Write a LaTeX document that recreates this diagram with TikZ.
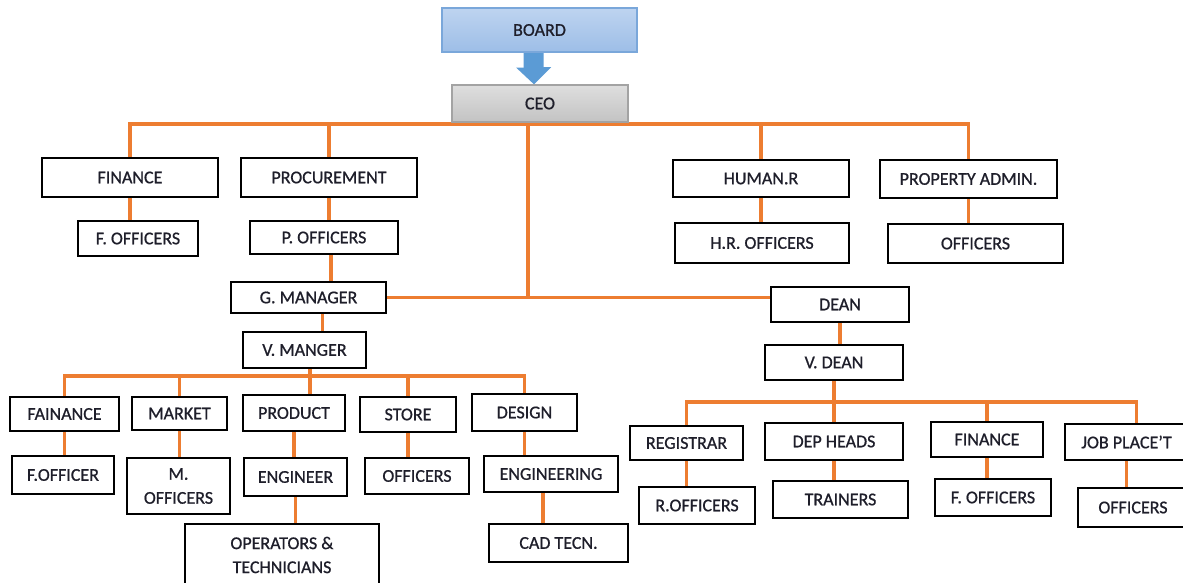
\documentclass[tikz,border=0pt]{standalone}
\usepackage{fontspec}
\setmainfont{Carlito}[FakeBold=0.8]
\usetikzlibrary{arrows.meta,backgrounds}
\definecolor{linkorange}{HTML}{ED7D31}
\definecolor{arrowblue}{HTML}{5B9BD5}
\definecolor{boardtop}{HTML}{BED4F0}
\definecolor{boardbot}{HTML}{9DBEE7}
\definecolor{boardedge}{HTML}{7AA7DA}
\definecolor{ceotop}{HTML}{DEDEDE}
\definecolor{ceobot}{HTML}{C3C3C3}
\definecolor{ceoedge}{HTML}{A3A3A3}
\definecolor{ink}{HTML}{1E1E2A}
\tikzset{
  box/.style={draw=black, line width=1.5pt, fill=white, inner sep=0pt,
    align=center, text=ink, font=\fontsize{18}{24}\selectfont},
  boardbox/.style={box, draw=boardedge, line width=1.2pt, fill=none,
    top color=boardtop, bottom color=boardbot},
  ceobox/.style={box, draw=ceoedge, line width=1.2pt, fill=none,
    top color=ceotop, bottom color=ceobot},
  link/.style={draw=linkorange, line width=3.2pt},
  blockarrow/.style={draw=arrowblue, line width=20pt,
    -{Triangle[width=34pt,length=17pt]}, arrowblue}
}
\begin{document}
\begin{tikzpicture}[x=1pt,y=-1pt]
\clip (0,0) rectangle (1183,583);

% top of the chart
\node[boardbox, minimum width=195pt, minimum height=44pt] (board) at (539.5,30) {BOARD};
\node[ceobox, minimum width=176pt, minimum height=37pt] (ceo) at (540,103.5) {CEO};

% departments under the CEO
\node[box, minimum width=176pt, minimum height=39pt] (fin)  at (130,177.5) {FINANCE};
\node[box, minimum width=176pt, minimum height=39pt] (proc) at (329,177.5) {PROCUREMENT};
\node[box, minimum width=176pt, minimum height=37pt] (hr)   at (761,178.5) {HUMAN.R};
\node[box, minimum width=177pt, minimum height=38pt] (prop) at (968.5,179) {PROPERTY ADMIN.};
\node[box, minimum width=120pt, minimum height=35pt] (fof)  at (138,238.5) {F. OFFICERS};
\node[box, minimum width=148pt, minimum height=33pt] (pof)  at (324,237.5) {P. OFFICERS};
\node[box, minimum width=174pt, minimum height=40pt] (hro)  at (762,243) {H.R. OFFICERS};
\node[box, minimum width=175pt, minimum height=39pt] (pao)  at (975.5,243.5) {OFFICERS};

% industry side
\node[box, minimum width=155pt, minimum height=31pt] (gm)   at (308.5,297.5) {G. MANAGER};
\node[box, minimum width=123pt, minimum height=36pt] (vm)   at (304.5,350) {V. MANGER};
\node[box, minimum width=109pt, minimum height=34pt] (fai)  at (64.5,414) {FAINANCE};
\node[box, minimum width=95pt,  minimum height=33pt] (mkt)  at (179.5,413.5) {MARKET};
\node[box, minimum width=102pt, minimum height=36pt] (prd)  at (294,413) {PRODUCT};
\node[box, minimum width=96pt,  minimum height=35pt] (sto)  at (408,414.5) {STORE};
\node[box, minimum width=105pt, minimum height=37pt] (des)  at (524.5,412.5) {DESIGN};
\node[box, minimum width=102pt, minimum height=38pt] (fo2)  at (63,475) {F.OFFICER};
\node[box, minimum width=103pt, minimum height=56pt] (mof)  at (178.5,486) {M.\\OFFICERS};
\node[box, minimum width=103pt, minimum height=38pt] (eng)  at (295.5,477) {ENGINEER};
\node[box, minimum width=104pt, minimum height=36pt] (sof)  at (417,476) {OFFICERS};
\node[box, minimum width=134pt, minimum height=36pt] (engg) at (551,474) {ENGINEERING};
\node[box, minimum width=194pt, minimum height=62pt] (ops)  at (282,555) {OPERATORS \&\\TECHNICIANS};
\node[box, minimum width=139pt, minimum height=38pt] (cad)  at (558.5,543) {CAD TECN.};

% college side
\node[box, minimum width=138pt, minimum height=35pt] (dean) at (840,304.5) {DEAN};
\node[box, minimum width=138pt, minimum height=35pt] (vd)   at (834,362.5) {V. DEAN};
\node[box, minimum width=113pt, minimum height=34pt] (reg)  at (686.5,443) {REGISTRAR};
\node[box, minimum width=138pt, minimum height=37pt] (dh)   at (834,441.5) {DEP HEADS};
\node[box, minimum width=112pt, minimum height=35pt] (fin2) at (987,439.5) {FINANCE};
\node[box, minimum width=123pt, minimum height=36pt] (job)  at (1126.5,442) {JOB PLACE'T};
\node[box, minimum width=116pt, minimum height=37pt] (rof)  at (697,505.5) {R.OFFICERS};
\node[box, minimum width=135pt, minimum height=37pt] (trn)  at (840.5,499.5) {TRAINERS};
\node[box, minimum width=116pt, minimum height=37pt] (fof3) at (993,497.5) {F. OFFICERS};
\node[box, minimum width=110pt, minimum height=39pt] (jof)  at (1133,507.5) {OFFICERS};

% junction points of the bus lines
\coordinate (trunk) at (528,124);
\coordinate (vmbar) at (310,376);
\coordinate (vdbar) at (834,402);

\begin{scope}[on background layer]
  \fill[white] (0,0) rectangle (1183,583);

  % board to CEO
  \draw[blockarrow] ([xshift=-6pt]board.south) -- ([xshift=-6pt]ceo.north);

  % CEO bus
  \draw[link] (fin.north) |- (trunk) -| (prop.north);
  \draw[link] (proc.north) -- (proc.north |- trunk);
  \draw[link] (hr.north) -- (hr.north |- trunk);
  \draw[link] (ceo.south -| trunk) -- (trunk |- gm.east) -- (gm.east);
  \draw[link] (gm.east) -- (gm.east -| dean.west);

  \draw[link] (fin.south) -- (fin.south |- fof.north);
  \draw[link] (proc.south) -- (proc.south |- pof.north);
  \draw[link] ([xshift=7pt]pof.south) -- ([xshift=7pt]pof.south |- gm.north);
  \draw[link] (hr.south) -- (hr.south |- hro.north);
  \draw[link] (prop.south) -- (prop.south |- pao.north);

  % industry side
  \draw[link] ([xshift=14pt]gm.south) -- ([xshift=14pt]gm.south |- vm.north);
  \draw[link] (vm.south -| vmbar) -- (vmbar |- prd.north);
  \draw[link] (fai.north) |- (vmbar) -| (des.north);
  \draw[link] (mkt.north) -- (mkt.north |- vmbar);
  \draw[link] (sto.north) -- (sto.north |- vmbar);
  \draw[link] (fai.south) -- (fai.south |- fo2.north);
  \draw[link] (mkt.south) -- (mkt.south |- mof.north);
  \draw[link] (prd.south) -- (prd.south |- eng.north);
  \draw[link] (eng.south) -- (eng.south |- ops.north);
  \draw[link] (sto.south) -- (sto.south |- sof.north);
  \draw[link] (des.south) -- (des.south |- engg.north);
  \draw[link] ([xshift=-8pt]engg.south) -- ([xshift=-8pt]engg.south |- cad.north);

  % college side
  \draw[link] (dean.south) -- (dean.south |- vd.north);
  \draw[link] (vd.south) -- (dh.north);
  \draw[link] (reg.north) |- (vdbar) -| ([xshift=10pt]job.north);
  \draw[link] (fin2.north) -- (fin2.north |- vdbar);
  \draw[link] (reg.south) -- (reg.south |- rof.north);
  \draw[link] (dh.south) -- (dh.south |- trn.north);
  \draw[link] (fin2.south) -- (fin2.south |- fof3.north);
  \draw[link] (job.south) -- (job.south |- jof.north);
\end{scope}
\end{tikzpicture}
\end{document}
